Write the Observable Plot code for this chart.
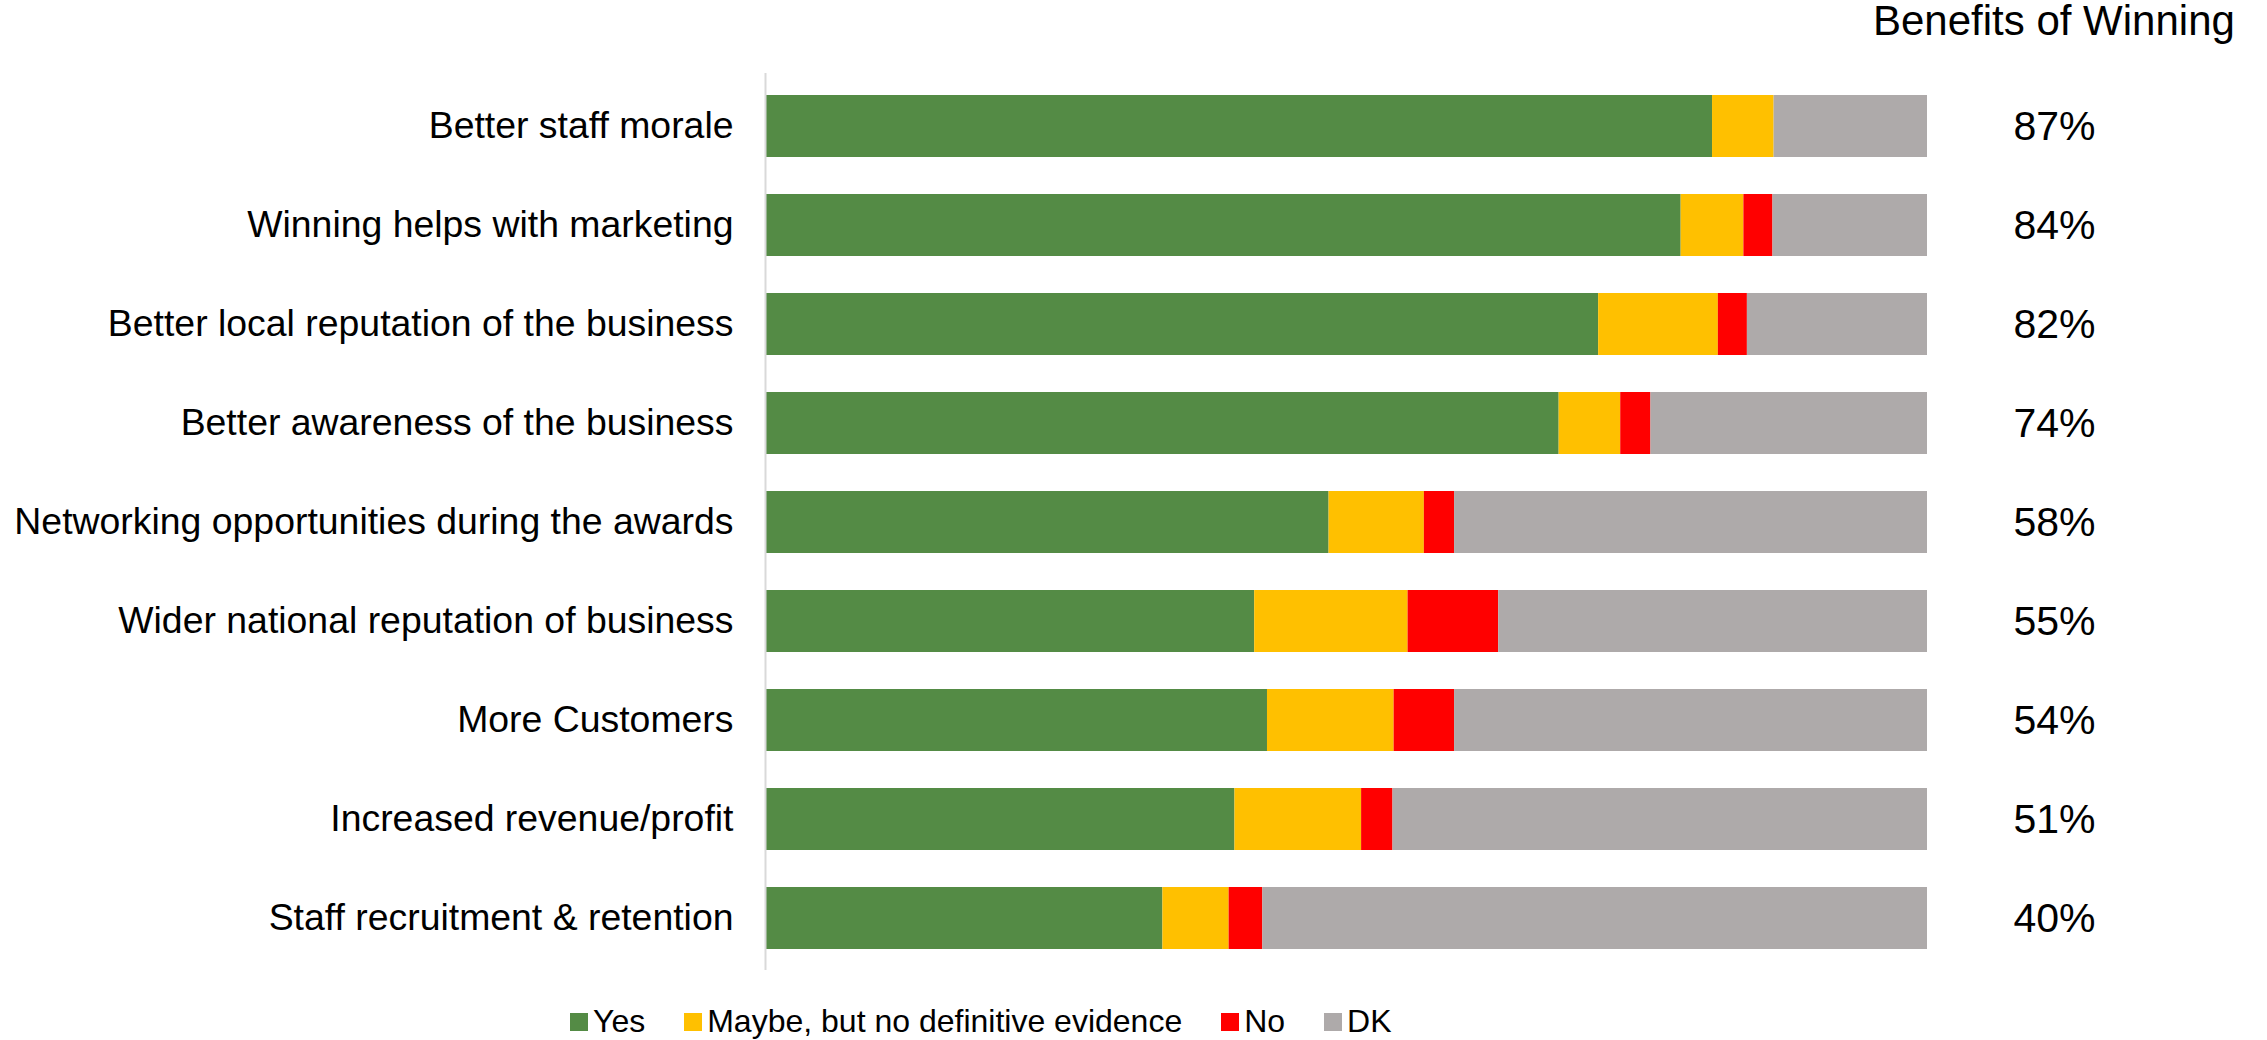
<!DOCTYPE html>
<html>
<head>
<meta charset="utf-8">
<script src="https://cdn.jsdelivr.net/npm/d3@7"></script>
<script src="https://cdn.jsdelivr.net/npm/@observablehq/plot@0.6"></script>
<style>
  html, body { margin: 0; padding: 0; background: #fff; }
  body { width: 2267px; height: 1040px; position: relative; overflow: hidden;
         font-family: "Liberation Sans", Arial, sans-serif; color: #000; }
  #title { position: absolute; left: 1873px; top: -3px; font-size: 42px; white-space: nowrap; }
  #chart { position: absolute; left: 0; top: 0; }
  #legend { position: absolute; left: 570px; top: 1003px; display: flex; align-items: center;
            font-size: 32px; white-space: nowrap; }
  #legend .item { display: flex; align-items: center; margin-right: 39px; }
  #legend .sw { width: 18px; height: 18px; margin-right: 5px; }
</style>
</head>
<body>
<div id="title">Benefits of Winning</div>
<div id="chart"></div>
<div id="legend"></div>
<script>
const categories = [
  "Better staff morale",
  "Winning helps with marketing",
  "Better local reputation of the business",
  "Better awareness of the business",
  "Networking opportunities during the awards",
  "Wider national reputation of business",
  "More Customers",
  "Increased revenue/profit",
  "Staff recruitment & retention"
];
const series = ["Yes", "Maybe, but no definitive evidence", "No", "DK"];
const colors = ["#548B45", "#FFC000", "#FF0000", "#AEAAAA"];
const yesValues   = [81.5, 78.8, 71.7, 68.3, 48.5, 42.1, 43.2, 40.4, 34.2];
const maybeValues = [5.3, 5.4, 10.3, 5.3, 8.2, 13.2, 10.9, 10.9, 5.7];
const noValues    = [0, 2.5, 2.5, 2.6, 2.6, 7.8, 5.2, 2.7, 2.9];
const dkValues    = [13.2, 13.3, 15.5, 23.8, 40.7, 36.9, 40.7, 46.0, 57.2];
const benefitPct  = [87, 84, 82, 74, 58, 55, 54, 51, 40];

const valueSets = [yesValues, maybeValues, noValues, dkValues];
const rows = [];
categories.forEach((c, i) => {
  series.forEach((s, j) => rows.push({category: c, series: s, order: j, value: valueSets[j][i]}));
});
const labelRows = categories.map((c, i) => ({category: c, pct: benefitPct[i]}));

const plot = Plot.plot({
  width: 2267,
  height: 990,
  marginLeft: 765,
  marginRight: 340,
  marginTop: 73,
  marginBottom: 20,
  style: {fontFamily: '"Liberation Sans", Arial, sans-serif', fontSize: "37px", color: "#000", background: "transparent"},
  x: {domain: [0, 100], axis: null},
  y: {domain: categories, paddingInner: 0.376, paddingOuter: 0.2, label: null},
  color: {domain: series, range: colors},
  marks: [
    Plot.barX(rows, Plot.stackX({x: "value", y: "category", fill: "series", order: series})),
    Plot.ruleX([0], {stroke: "#D9D9D9", strokeWidth: 2}),
    Plot.axisY({tickSize: 0, tickPadding: 32, fontSize: 37.4, label: null}),
    Plot.text(labelRows, {x: () => 100, y: "category", text: d => d.pct + "%", dx: 127,
      textAnchor: "middle", fontSize: 41, fill: "#000"})
  ]
});
document.getElementById("chart").appendChild(plot);

const legend = document.getElementById("legend");
series.forEach((s, j) => {
  const item = document.createElement("div");
  item.className = "item";
  const sw = document.createElement("div");
  sw.className = "sw";
  sw.style.background = colors[j];
  const t = document.createElement("span");
  t.textContent = s;
  item.appendChild(sw);
  item.appendChild(t);
  legend.appendChild(item);
});
</script>
</body>
</html>
